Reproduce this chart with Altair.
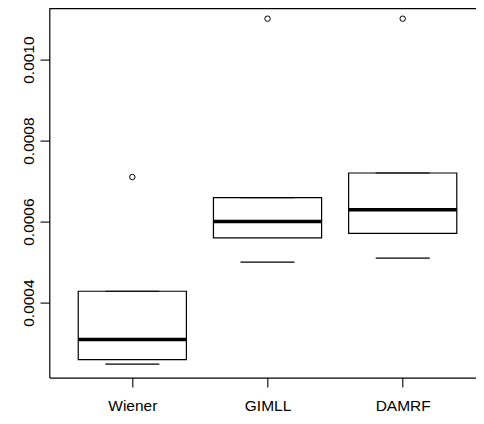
import json
import altair as alt
import pandas as pd

categories = ["Wiener", "GIMLL", "DAMRF"]
positions = [1, 2, 3]
q1 = [0.000259, 0.000560, 0.000571]
median = [0.000309, 0.000600, 0.000629]
q3 = [0.000428, 0.000659, 0.000720]
whisk_lo = [0.000248, 0.000500, 0.000510]
whisk_hi = [0.000428, 0.000659, 0.000720]
out_cat = ["Wiener", "GIMLL", "DAMRF"]
out_val = [0.000710, 0.001101, 0.001101]
y_ticks = [0.0004, 0.0006, 0.0008, 0.0010]

BOX_HALF = 0.4
STAPLE_HALF = 0.2
XDOM = [0.386, 3.542]
YDOM = [0.0002148, 0.0011259]

boxes = pd.DataFrame({
    "cat": categories, "pos": positions, "q1": q1, "med": median,
    "q3": q3, "lo": whisk_lo, "hi": whisk_hi,
})
boxes["bx"] = boxes["pos"] - BOX_HALF
boxes["bx2"] = boxes["pos"] + BOX_HALF
boxes["sx"] = boxes["pos"] - STAPLE_HALF
boxes["sx2"] = boxes["pos"] + STAPLE_HALF

outs = pd.DataFrame({"cat": out_cat, "val": out_val})
outs["pos"] = [positions[categories.index(c)] for c in out_cat]

frame = pd.DataFrame({"fx": [XDOM[0]], "fx2": [XDOM[1]], "fy": [YDOM[1]]})

FONT = "Liberation Sans"
xscale = alt.Scale(domain=XDOM, nice=False, zero=False)
yscale = alt.Scale(domain=YDOM, nice=False, zero=False)

label_expr = json.dumps(categories) + "[datum.value - 1]"
common = dict(title=None, grid=False, domain=True, domainColor="black",
              domainWidth=1.2, tickColor="black", tickSize=9.3, tickWidth=1.1,
              labelColor="black", labelFont=FONT, labelFontSize=15.5)
xaxis = alt.Axis(values=positions, labelExpr=label_expr, labelPadding=12, **common)
yaxis = alt.Axis(values=y_ticks, format=".4f", labelAngle=270, labelPadding=4, **common)

base = alt.Chart(boxes)

rect = base.mark_rect(fill="white", stroke="black", strokeWidth=1.2).encode(
    x=alt.X("bx:Q", scale=xscale, axis=xaxis),
    x2="bx2:Q",
    y=alt.Y("q1:Q", scale=yscale, axis=yaxis),
    y2="q3:Q",
)
med = base.mark_rule(color="black", strokeWidth=3.5).encode(
    x=alt.X("bx:Q"), x2="bx2:Q", y=alt.Y("med:Q"),
)
st_lo = base.mark_rule(color="black", strokeWidth=1.2).encode(
    x=alt.X("sx:Q"), x2="sx2:Q", y=alt.Y("lo:Q"),
)
st_hi = base.mark_rule(color="black", strokeWidth=1.2).encode(
    x=alt.X("sx:Q"), x2="sx2:Q", y=alt.Y("hi:Q"),
)
pts = alt.Chart(outs).mark_point(shape="circle", filled=False, color="black",
                                 size=30, strokeWidth=1, opacity=1).encode(
    x=alt.X("pos:Q"), y=alt.Y("val:Q"),
)
# top side of the plot frame (the right side lies outside the picture)
top_frame = alt.Chart(frame).mark_rule(color="black", strokeWidth=1.2).encode(
    x=alt.X("fx:Q"), x2="fx2:Q", y=alt.Y("fy:Q"),
)

chart = alt.layer(rect, med, st_lo, st_hi, pts, top_frame).properties(
    width=426.7, height=369,
    autosize=alt.AutoSizeParams(type="none"),
    padding={"left": 41.3, "top": 0.6, "right": 0, "bottom": 35},
    background="white",
).configure_view(stroke="transparent", strokeWidth=0)

chart.save("out.html", embed_options={"renderer": "svg", "actions": False})
